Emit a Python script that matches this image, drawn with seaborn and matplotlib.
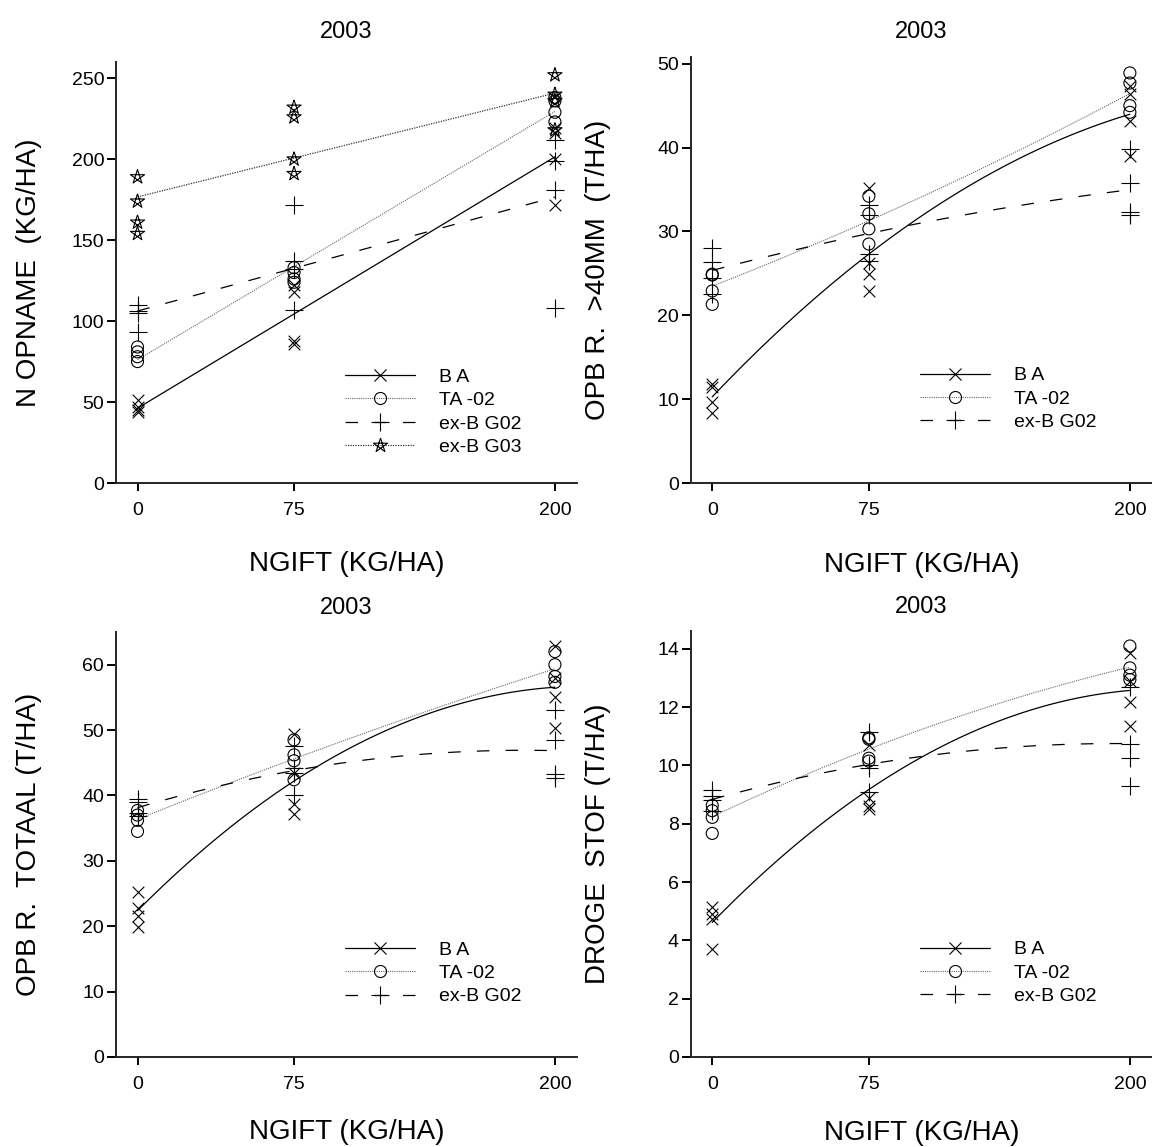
import numpy as np
import pandas as pd
import seaborn as sns
import matplotlib.pyplot as plt
from matplotlib.lines import Line2D

# N-gift levels (kg/ha)
ngift = [0, 75, 200]

# N opname (kg/ha), four replicates per N level
n_ba = [[51, 47, 45, 44], [122, 118, 88, 86], [219, 216, 200, 172]]
n_ta02 = [[84, 81, 78, 75], [133, 130, 126, 124], [238, 236, 229, 223]]
n_bg02 = [[110, 106, 105, 93], [172, 137, 132, 107], [212, 199, 181, 108]]
n_bg03 = [[189, 174, 161, 154], [232, 226, 200, 191], [252, 240, 236, 218]]

# opbrengst >40mm (t/ha)
g40_ba = [[11.8, 11.4, 9.6, 8.3], [35.2, 26.2, 24.9, 22.9], [47.3, 46.4, 43.2, 39.0]]
g40_ta02 = [[24.9, 24.8, 22.9, 21.3], [34.2, 32.1, 30.3, 28.5], [48.9, 47.7, 45.0, 44.2]]
g40_bg02 = [[28.0, 26.4, 24.5, 22.5], [33.2, 32.0, 27.3, 26.5], [39.8, 35.8, 32.3, 32.0]]

# opbrengst totaal (t/ha)
tot_ba = [[25.3, 22.8, 21.5, 19.9], [49.4, 43.5, 38.7, 37.2], [62.9, 58.0, 55.0, 50.3]]
tot_ta02 = [[37.7, 37.0, 36.2, 34.5], [48.5, 46.2, 45.3, 42.4], [62.0, 60.0, 58.2, 57.3]]
tot_bg02 = [[39.4, 39.0, 37.3, 36.8], [47.5, 44.2, 43.5, 40.0], [53.0, 48.5, 43.3, 42.6]]

# droge stof (t/ha)
ds_ba = [[5.13, 4.9, 4.73, 3.7], [10.7, 8.9, 8.6, 8.5], [13.85, 12.9, 12.18, 11.37]]
ds_ta02 = [[8.63, 8.45, 8.22, 7.67], [10.95, 10.9, 10.25, 10.15], [14.1, 13.35, 13.1, 12.95]]
ds_bg02 = [[9.15, 8.95, 8.8, 8.45], [11.15, 10.0, 9.9, 9.1], [12.7, 10.75, 10.25, 9.3]]

labels = ["B A", "TA -02", "ex-B G02", "ex-B G03"]


def to_frame(series):
    rows = []
    for name, vals in zip(labels, series):
        for x, reps in zip(ngift, vals):
            for v in reps:
                rows.append((name, x, v))
    return pd.DataFrame(rows, columns=["ras", "ngift", "y"])


# pentagram drawn with crossing lines
ang = np.deg2rad(90 + 144 * np.arange(6))
star = list(zip(np.cos(ang), np.sin(ang)))

stijl = {
    "B A": dict(marker="x", s=70, open=False, ls="-", lc="black", lw=0.9),
    "TA -02": dict(marker="o", s=75, open=True, ls=(0, (1, 1)), lc="#666666", lw=0.8),
    "ex-B G02": dict(marker="+", s=160, open=False, ls=(0, (10, 13)), lc="black", lw=0.9),
    "ex-B G03": dict(marker=star, s=115, open=True, ls=(0, (1, 1)), lc="#333333", lw=0.9),
}

sns.set_style("ticks")
plt.rcParams["font.family"] = ["Liberation Sans", "DejaVu Sans"]
plt.rcParams["text.color"] = "black"
plt.rcParams["axes.labelcolor"] = "black"
plt.rcParams["xtick.color"] = "black"
plt.rcParams["ytick.color"] = "black"

fig = plt.figure(figsize=(11.52, 11.47), dpi=100)

panelen = [
    ([n_ba, n_ta02, n_bg02, n_bg03], "N OPNAME  (KG/HA)", 260, [0, 50, 100, 150, 200, 250], 1,
     [0.1007, 0.5789, 0.4002, 0.367], -0.16, 24, -0.162),
    ([g40_ba, g40_ta02, g40_bg02], "OPB R.  >40MM  (T/HA)", 50.8, [0, 10, 20, 30, 40, 50], 2,
     [0.5996, 0.5789, 0.4004, 0.3714], -0.172, 19, -0.162),
    ([tot_ba, tot_ta02, tot_bg02], "OPB R.  TOTAAL (T/HA)", 65, [0, 10, 20, 30, 40, 50, 60], 2,
     [0.1007, 0.0785, 0.4002, 0.3705], -0.16, 18, -0.147),
    ([ds_ba, ds_ta02, ds_bg02], "DROGE  STOF (T/HA)", 14.6, [0, 2, 4, 6, 8, 10, 12, 14], 2,
     [0.5996, 0.0785, 0.4004, 0.371], -0.172, 18, -0.147),
]

for series, ylab, ytop, yticks, orde, pos, ylx, tpad, xly in panelen:
    ax = fig.add_axes(pos)
    df = to_frame(series)
    handles = []
    for name in df["ras"].unique():
        st = stijl[name]
        sub = df[df["ras"] == name]
        sns.regplot(data=sub, x="ngift", y="y", order=orde, ci=None, scatter=False, ax=ax,
                    line_kws=dict(color=st["lc"], lw=st["lw"], ls=st["ls"]))
        if st["open"]:
            sns.scatterplot(data=sub, x="ngift", y="y", marker=st["marker"], s=st["s"],
                            color="black", facecolor="none", edgecolor="black",
                            linewidth=0.8, ax=ax, legend=False, zorder=3)
        else:
            sns.scatterplot(data=sub, x="ngift", y="y", marker=st["marker"], s=st["s"],
                            color="black", linewidth=0.8, ax=ax, legend=False, zorder=3)
        handles.append(Line2D([0], [0], color=st["lc"], lw=st["lw"], ls=st["ls"],
                              marker=st["marker"], markersize=np.sqrt(st["s"]),
                              markerfacecolor="none", markeredgecolor="black",
                              markeredgewidth=0.8, label=name))

    ax.set_xlim(-10.3, 210.6)
    ax.set_ylim(0, ytop)
    ax.set_xticks(ngift)
    ax.set_yticks(yticks)
    sns.despine(ax=ax)
    for sp in ["left", "bottom"]:
        ax.spines[sp].set_linewidth(1.4)
    ax.tick_params(axis="both", direction="out", width=1.4, labelsize=14)
    ax.tick_params(axis="y", length=6.5, pad=2)
    ax.tick_params(axis="x", length=6, pad=8)

    ax.set_xlabel("NGIFT (KG/HA)", fontsize=20)
    ax.set_ylabel(ylab, fontsize=20)
    ax.xaxis.set_label_coords(0.5, xly)
    ax.yaxis.set_label_coords(ylx, 0.5)
    top_px = pos[3] * 1147
    ax.set_title("2003", fontsize=17, y=1 + tpad / top_px, pad=0)

    ax.legend(handles=handles, loc="upper left", bbox_to_anchor=(0.497, 0.273), frameon=False,
              fontsize=14, handlelength=3.6, handletextpad=1.25, labelspacing=0.3,
              borderaxespad=0, borderpad=0)

fig.savefig("out.png", dpi=100)
